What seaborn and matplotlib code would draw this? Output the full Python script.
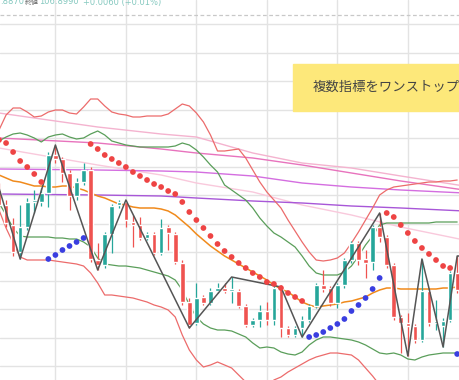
import numpy as np
import pandas as pd
import seaborn as sns
import matplotlib.pyplot as plt

# candles (price in chart units, higher = up)
opens  = [190,175,155,128,153,178,178,187,225,221,207,184,198,210,120,115,146,175,178,158,
          155,142,146,127,153,146,117,78,57,83,77,89,92,89,89,74,55,60,69,60,
          93,52,45,52,60,74,95,92,77,95,120,137,121,118,153,143,115,63,57,54,
          40,89,57,54,60,107]
highs  = [197,180,162,175,182,190,192,228,235,223,210,202,217,213,137,148,176,180,180,165,
          163,148,148,161,155,148,120,82,97,85,92,97,97,103,91,76,62,75,78,95,
          95,54,54,64,76,97,110,94,97,122,139,139,130,155,167,145,117,65,67,56,
          121,91,80,62,109,124]
lows   = [170,153,124,121,150,167,174,173,217,198,170,180,195,118,110,112,127,172,153,133,
          140,140,125,125,130,116,75,52,55,75,75,87,87,77,72,53,53,53,55,55,
          43,43,43,43,58,72,88,74,72,92,117,115,102,110,138,112,60,27,24,37,
          38,54,50,33,58,87]
closes = [175,157,128,153,178,180,187,225,221,207,184,198,210,121,115,146,174,178,160,155,
          142,146,127,152,147,118,78,55,82,77,89,92,89,91,74,55,60,69,60,92,
          52,45,52,60,74,95,91,77,95,120,137,120,117,153,143,115,63,57,54,40,
          89,57,59,59,107,90]

# parabolic SAR
sar = [240,237,228,219,213,206,198,121,125,130,134,138,142,236,231,225,221,217,213,208,
       204,200,196,193,189,186,178,168,160,152,144,136,129,123,117,112,107,103,98,96,
       92,87,83,79,43,45,48,52,56,61,69,75,82,91,102,167,163,155,147,139,
       132,126,120,114,112,26]

# moving average and bands
ma_mid = [205,202,199,198,196,194,194,193,193,194,194,192,190,187,184,182,179,176,175,173,
          172,172,172,171,169,165,159,153,146,140,134,129,124,120,116,112,108,104,100,95,
          91,88,83,78,75,73,74,75,76,78,79,81,83,87,90,92,92,91,91,91,
          91,91,91,92,92,93]
band_up1 = [239,243,246,247,245,242,238,243,245,246,243,241,242,246,249,245,239,237,235,234,
            233,233,233,233,233,234,237,235,230,223,215,208,195,190,185,180,172,162,154,147,
            143,138,133,124,114,107,105,105,105,108,114,124,135,144,155,157,157,157,157,157,
            157,157,158,158,158,158]
band_up2 = [250,265,272,272,268,263,264,268,270,270,267,266,273,281,281,274,268,266,265,263,
            263,264,264,264,266,271,276,274,267,258,245,229,229,230,231,222,210,198,188,180,
            172,160,149,138,128,120,119,120,122,127,137,148,160,172,185,190,193,194,195,196,
            197,198,198,199,199,200]
band_lo1 = [177,165,152,144,143,143,143,143,142,142,141,141,138,133,122,116,115,114,114,113,
            112,110,108,106,104,100,90,75,63,56,52,50,50,49,46,43,37,32,33,32,
            28,26,25,28,35,40,43,43,42,41,40,38,35,31,27,26,27,25,21,20,
            23,25,26,27,27,27]
band_lo2 = [170,152,137,123,120,120,120,120,119,118,117,116,114,107,97,85,85,84,83,82,
            80,78,75,73,70,63,45,30,20,13,15,18,15,12,5,-2,-8,-10,-8,0,
            3,8,12,16,20,23,25,27,27,26,25,20,12,4,-5,-12,-18,-20,-20,-20,
            -18,-15,-12,-10,-8,-5]

# long moving averages (anchor points)
ma_idx = [0, 14, 23, 28, 36, 43, 50, 57, 66]
ma_pink = [267, 253, 246, 243, 227, 217, 212, 204, 194]
ma_magenta = [242, 237, 231, 227, 222, 215, 207, 199, 190]
ma_violet = [211, 210, 209, 208, 204, 197, 193, 190, 187]
ma_purple = [186, 185, 184, 182, 179, 177, 174, 172, 169]
ma_light = [232, 215, 205, 197, 188, 175, 165, 153, 140]

# zigzag
zz_idx = [0, 3, 8, 14, 18, 27, 33, 40, 43, 54, 58, 60, 63, 65, 66]
zz_val = [192, 121, 235, 110, 180, 52, 103, 93, 43, 167, 24, 121, 33, 124, 124]

GREEN = "#26a69a"
RED = "#ef5350"

df = pd.DataFrame({"open": opens, "high": highs, "low": lows, "close": closes, "sar": sar})
df["i"] = np.arange(len(df))
df["up"] = df["close"] >= df["open"]

sns.set_style("white")
plt.rcParams["font.family"] = ["Noto Sans CJK JP", "DejaVu Sans"]

fig = plt.figure(figsize=(4.6, 3.8), dpi=100)
ax = fig.add_axes([0, 0, 1, 1])
ax.set_xlim(0.14, 65.4)
ax.set_ylim(0, 380)

ax.set_xticks([8, 18, 28, 38, 48, 58])
ax.set_yticks(np.arange(14, 380, 28.5))
ax.grid(True, color="#e3e3e3", lw=1)
ax.tick_params(length=0, labelbottom=False, labelleft=False)
for s in ax.spines.values():
    s.set_visible(False)
ax.axhline(365, color="#c8c8c8", lw=0.9, ls=(0, (3, 2)))

# long MAs
sns.lineplot(x=ma_idx, y=ma_light, ax=ax, color="#f9c9dc", lw=1)
sns.lineplot(x=ma_idx, y=ma_pink, ax=ax, color="#f4b3cf", lw=1)
sns.lineplot(x=ma_idx, y=ma_magenta, ax=ax, color="#e873bd", lw=1)
sns.lineplot(x=ma_idx, y=ma_violet, ax=ax, color="#d46ee0", lw=1)
sns.lineplot(x=ma_idx, y=ma_purple, ax=ax, color="#a857d8", lw=1)

# bands
sns.lineplot(data=df, x="i", y=band_up2, ax=ax, color="#ec6b6b", lw=0.9)
sns.lineplot(data=df, x="i", y=band_lo2, ax=ax, color="#ec6b6b", lw=0.9)
sns.lineplot(data=df, x="i", y=band_up1, ax=ax, color="#5a9e5a", lw=0.9)
sns.lineplot(data=df, x="i", y=band_lo1, ax=ax, color="#5a9e5a", lw=0.9)
sns.lineplot(data=df, x="i", y=ma_mid, ax=ax, color="#f08a1c", lw=1.1)

# candles
colors = np.where(df["up"], GREEN, RED)
ax.vlines(df["i"], df["low"], df["high"], colors=colors, lw=0.9, zorder=3)
body = (df["close"] - df["open"]).abs().clip(lower=1.5)
ax.bar(df["i"], body, bottom=df[["open", "close"]].min(axis=1), width=0.66,
       color=colors, zorder=4)

# zigzag
ax.plot(zz_idx, zz_val, color="#555555", lw=1.1, zorder=5)

# SAR dots
sar_col = np.where(df["sar"] > df["close"], "#ee4444", "#3a3ee0")
ax.scatter(df["i"], df["sar"], s=17, c=sar_col, lw=0, zorder=6)

# header text
ty = 1 - 2 / 380
teal = "#86c9c0"
fig.text(0 / 460, ty, ".8870", color=teal, fontsize=6, va="center", family="DejaVu Sans")
fig.text(25 / 460, ty, "終値", color="#666666", fontsize=5, va="center")
fig.text(39 / 460, ty, "106.8990", color=teal, fontsize=6, va="center", family="DejaVu Sans")
fig.text(83 / 460, ty, "+0.0060 (+0.01%)", color=teal, fontsize=6, va="center", family="DejaVu Sans")

# yellow note
box = plt.Rectangle((293 / 460, (380 - 111) / 380), 180 / 460, 47 / 380,
                    transform=fig.transFigure, color="#fde87a", zorder=10)
fig.patches.append(box)
fig.text(313 / 460, (380 - 87) / 380, "複数指標をワンストップに", fontsize=9.6,
         color="#444444", va="center", zorder=11)

fig.savefig("out.png", dpi=100)
